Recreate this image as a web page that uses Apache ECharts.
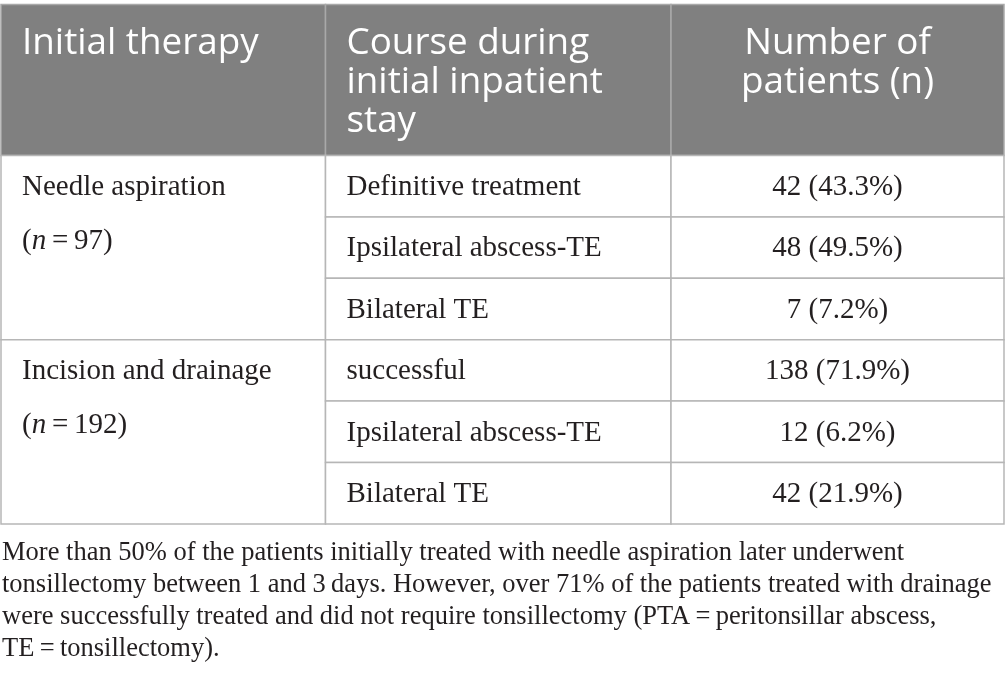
<!DOCTYPE html>
<html>
<head>
<meta charset="utf-8">
<script src="https://cdn.jsdelivr.net/npm/echarts@6.0.0/dist/echarts.min.js"></script>
<style>
  html, body { margin: 0; padding: 0; background: #fff; }
  #main { width: 1005px; height: 689px; }
</style>
</head>
<body>
<div id="main"></div>
<script>
// table content
var headerLines = [
  ["Initial therapy"],
  ["Course during", "initial inpatient", "stay"],
  ["Number of", "patients (n)"]
];
var therapies = ["Needle aspiration", "Incision and drainage"];
var groupSizes = [97, 192];
var courses = [
  "Definitive treatment",
  "Ipsilateral abscess-TE",
  "Bilateral TE",
  "successful",
  "Ipsilateral abscess-TE",
  "Bilateral TE"
];
var counts = [42, 48, 7, 138, 12, 42];
var percents = ["43.3", "49.5", "7.2", "71.9", "6.2", "21.9"];
var captionLines = [
  "More than 50% of the patients initially treated with needle aspiration later underwent",
  "tonsillectomy between 1 and 3\u2009days. However, over 71% of the patients treated with drainage",
  "were successfully treated and did not require tonsillectomy (PTA\u2009=\u2009peritonsillar abscess,",
  "TE\u2009=\u2009tonsillectomy)."
];

// layout (pixel space of the hidden axes)
var colEdges = [1, 325.5, 671, 1004];
var tableTop = 4.5;
var headBottom = 155.5;
var rowH = 61.4;
var rowsPerGroup = 3;
var padLeft = 21;
var headSize = 36.8, headLead = 39, headFirstBase = 56;
var bodySize = 29, bodyBaseOff = 41.5, bodyLead = 54;
var capSize = 26.5, capFirstBase = 562, capLead = 31.8;

var sansFont = '"Open Sans", "Noto Sans", sans-serif';
var serifFont = '"Liberation Serif", "DejaVu Serif", serif';
var gridColor = "#b6b6b6";

// baseline -> middle of the em box
function mid(base, size) { return base - 0.33 * size; }

function cellRect(api, c, top, bottom, fill, stroke) {
  var p0 = api.coord([colEdges[c], top]);
  var p1 = api.coord([colEdges[c + 1], bottom]);
  return {
    type: "rect",
    shape: { x: p0[0], y: p0[1], width: p1[0] - p0[0], height: p1[1] - p0[1] },
    style: { fill: fill, stroke: stroke, lineWidth: 1.5 }
  };
}

function textEl(api, x, base, str, opt) {
  var p = api.coord([x, mid(base, opt.size)]);
  var style = {
    text: str,
    x: p[0],
    y: p[1],
    fill: opt.color || "#231f20",
    fontSize: opt.size,
    fontFamily: opt.family,
    align: opt.align || "left",
    verticalAlign: "middle"
  };
  if (opt.rich) style.rich = opt.rich;
  return { type: "text", style: style };
}

var italicRich = {
  it: { fontStyle: "italic", fontSize: bodySize, fontFamily: serifFont, fill: "#231f20" },
  rm: { fontSize: bodySize, fontFamily: serifFont, fill: "#231f20" }
};

var chartDom = document.getElementById("main");
var myChart = echarts.init(chartDom, null, { renderer: "canvas" });

var option = {
  animation: false,
  grid: { left: 0, right: 0, top: 0, bottom: 0 },
  xAxis: { type: "value", min: 0, max: 1005, show: false },
  yAxis: { type: "value", min: 0, max: 689, inverse: true, show: false },
  series: [
    {
      // header cells
      type: "custom",
      clip: false,
      data: headerLines.map(function (l, i) { return [i, 0]; }),
      renderItem: function (params, api) {
        var c = api.value(0);
        var children = [cellRect(api, c, tableTop, headBottom, "#808080", "#a9a9a9")];
        var center = c === 2;
        var x = center ? (colEdges[c] + colEdges[c + 1]) / 2 : colEdges[c] + padLeft;
        headerLines[c].forEach(function (line, k) {
          children.push(textEl(api, x, headFirstBase + k * headLead, line, {
            size: headSize, family: sansFont, color: "#ffffff", align: center ? "center" : "left"
          }));
        });
        return { type: "group", children: children };
      }
    },
    {
      // initial therapy (merged over three rows)
      type: "custom",
      clip: false,
      data: therapies.map(function (t, g) { return [0, g]; }),
      renderItem: function (params, api) {
        var g = api.value(1);
        var top = headBottom + g * rowsPerGroup * rowH;
        var bottom = top + rowsPerGroup * rowH;
        var x = colEdges[0] + padLeft;
        var base = top + bodyBaseOff;
        return {
          type: "group",
          children: [
            cellRect(api, 0, top, bottom, "#ffffff", gridColor),
            textEl(api, x, base, therapies[g], { size: bodySize, family: serifFont }),
            textEl(api, x, base + bodyLead,
              "{rm|(}{it|n}{rm|\u2009=\u2009" + groupSizes[g] + ")}",
              { size: bodySize, family: serifFont, rich: italicRich })
          ]
        };
      }
    },
    {
      // course and number of patients
      type: "custom",
      clip: false,
      data: courses.map(function (c, r) { return [1, r]; }),
      renderItem: function (params, api) {
        var r = api.value(1);
        var top = headBottom + r * rowH;
        var bottom = top + rowH;
        var base = top + bodyBaseOff;
        return {
          type: "group",
          children: [
            cellRect(api, 1, top, bottom, "#ffffff", gridColor),
            cellRect(api, 2, top, bottom, "#ffffff", gridColor),
            textEl(api, colEdges[1] + padLeft, base, courses[r], { size: bodySize, family: serifFont }),
            textEl(api, (colEdges[2] + colEdges[3]) / 2, base,
              counts[r] + " (" + percents[r] + "%)",
              { size: bodySize, family: serifFont, align: "center" })
          ]
        };
      }
    },
    {
      // footnote below the table
      type: "custom",
      clip: false,
      data: captionLines.map(function (l, i) { return [0, i]; }),
      renderItem: function (params, api) {
        var i = api.value(1);
        return textEl(api, 2, capFirstBase + i * capLead, captionLines[i], {
          size: capSize, family: serifFont
        });
      }
    }
  ]
};

option && myChart.setOption(option);
</script>
</body>
</html>
